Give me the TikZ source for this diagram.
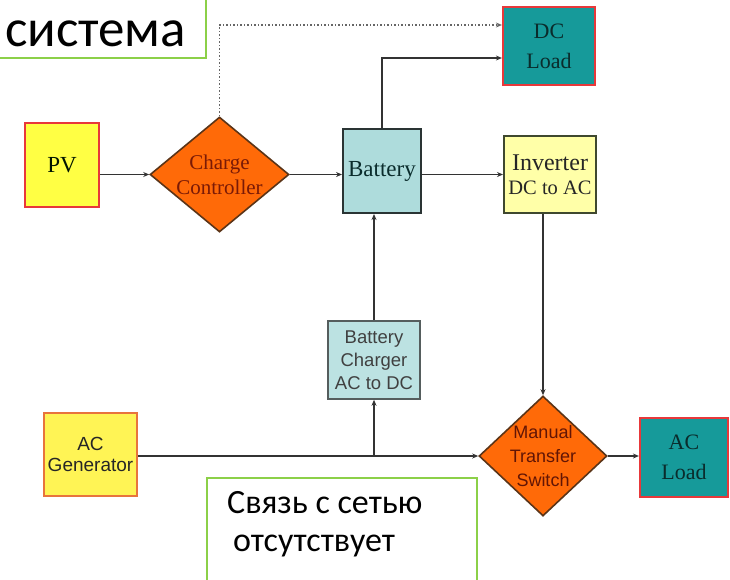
\documentclass[tikz,border=0pt]{standalone}
\usepackage{fontspec}
\setmainfont{Liberation Serif}
\newfontfamily\arialfont{Liberation Sans}
\newfontfamily\calfont{Carlito}
\usetikzlibrary{shapes.geometric,arrows.meta,calc}

\definecolor{pvyellow}{HTML}{FFFF44}
\definecolor{genyellow}{HTML}{FFF455}
\definecolor{boxred}{HTML}{E8383A}
\definecolor{genorange}{HTML}{E8743C}
\definecolor{ctrlorange}{HTML}{FF6A08}
\definecolor{ctrledge}{HTML}{5A3418}
\definecolor{ctrltext}{HTML}{7A1A06}
\definecolor{battblue}{HTML}{AEDCDC}
\definecolor{chgblue}{HTML}{BCE2E2}
\definecolor{invyellow}{HTML}{FFFFA8}
\definecolor{loadteal}{HTML}{169A9A}
\definecolor{loadtext}{HTML}{0A2C2C}
\definecolor{darkedge}{HTML}{2A3434}
\definecolor{wire}{HTML}{333333}
\definecolor{notegreen}{HTML}{8CD048}

\tikzset{
  x=1pt, y=-1pt,
  blk/.style={draw, line width=2pt, minimum width=#1, inner sep=0pt, align=center},
  srcbox/.style={fill=pvyellow, draw=boxred, line width=2.2pt, inner sep=0pt, align=center},
  loadbox/.style={fill=loadteal, draw=boxred, line width=2.2pt, inner sep=0pt, align=center,
                  text=loadtext, font=\fontsize{22}{30}\selectfont},
  decide/.style={diamond, fill=ctrlorange, draw=ctrledge, line width=1.6pt, inner sep=0pt},
  serifbig/.style={font=\fontsize{23}{26}\selectfont},
  wireln/.style={draw=wire, line width=1.6pt},
  arr/.style={wireln, -{Stealth[length=6pt,width=5pt]}},
  note/.style={draw=notegreen, line width=1.6pt, fill=white},
}

\begin{document}
\begin{tikzpicture}
\useasboundingbox (0,0) rectangle (730,579);

% sources
\node[srcbox, minimum width=74pt, minimum height=84pt,
      font=\fontsize{23}{26}\selectfont, text=black!80!green!40!black] (pv) at (62,165) {PV};
\node[srcbox, fill=genyellow, draw=genorange, minimum width=93pt, minimum height=83pt,
      font=\arialfont\fontsize{19}{21}\selectfont, text=black!85] (gen) at (90.5,454.5) {AC\\Generator};

% charge controller
\node[decide, minimum width=139pt, minimum height=115pt] (cc) at (219.5,174.5) {};
\node[align=center, text=ctrltext, font=\fontsize{21}{25}\selectfont] (cctext) at (cc.center) {Charge\\Controller};

% storage and conversion
\node[blk=78pt, minimum height=84pt, fill=battblue, draw=darkedge, text=loadtext,
      serifbig] (bat) at (382,171) {Battery};
\node[blk=92pt, minimum height=77pt, fill=invyellow, draw=darkedge!90!yellow, text=black!85,
      font=\fontsize{24}{28}\selectfont] (inv) at (550,174.5) {Inverter\\[-4pt]{\fontsize{20.5}{22}\selectfont DC to AC}};
\node[blk=92pt, minimum height=78pt, fill=chgblue, draw=darkedge!80, line width=1.6pt, text=black!75,
      font=\arialfont\fontsize{18.5}{23}\selectfont] (chg) at (374,360) {Battery\\Charger\\AC to DC};

% loads
\node[loadbox, minimum width=92pt, minimum height=78pt] (dcl) at (549,46) {DC\\Load};
\node[loadbox, minimum width=88pt, minimum height=79pt] (acl) at (684,457.5) {AC\\Load};

% transfer switch
\node[decide, minimum width=128pt, minimum height=120pt] (mts) at (543,456) {};
\node[align=center, text=ctrltext!80!black, font=\arialfont\fontsize{18}{24}\selectfont] (mtstext) at (mts.center) {Manual\\Transfer\\Switch};

% connectors
\draw[arr] (pv.east |- cc.west) -- (cc.west);
\draw[arr] (cc.east) -- (cc.east -| bat.west);
\draw[arr] (bat.east |- inv.west) -- (inv.west);
\draw[arr] (bat.north) |- ([yshift=-12pt]dcl.west);
\draw[draw=gray!80!black, line width=1.5pt, dotted, -{Stealth[length=6pt,width=5pt]}]
      (cc.north) |- ([yshift=21pt]dcl.west);
\draw[arr] (mts.north |- inv.south) -- (mts.north);
\draw[arr] (chg.north) -- (chg.north |- bat.south);
\draw[arr] (gen.east |- mts.west) -- (mts.west);
\coordinate (tap) at (chg.south |- mts.west);
\draw[arr] (tap) -- (chg.south);
\draw[arr] (mts.east) -- (mts.east -| acl.west);

% notes
\node[note, minimum width=207pt, minimum height=59pt, anchor=north west] (topnote) at (-2,-2) {};
\node[anchor=base west, inner sep=0pt, font=\calfont\fontsize{53}{55}\selectfont] (toptext) at (5,46) {система};

\node[note, minimum width=270pt, minimum height=120pt, anchor=north west] (botnote) at (206,477) {};
\node[anchor=base west, inner sep=0pt, font=\calfont\fontsize{34}{38}\selectfont] (bottext1) at (227,513) {Связь с сетью};
\node[anchor=base west, inner sep=0pt, font=\calfont\fontsize{34}{38}\selectfont] (bottext2) at (233,551) {отсутствует};
\end{tikzpicture}
\end{document}
